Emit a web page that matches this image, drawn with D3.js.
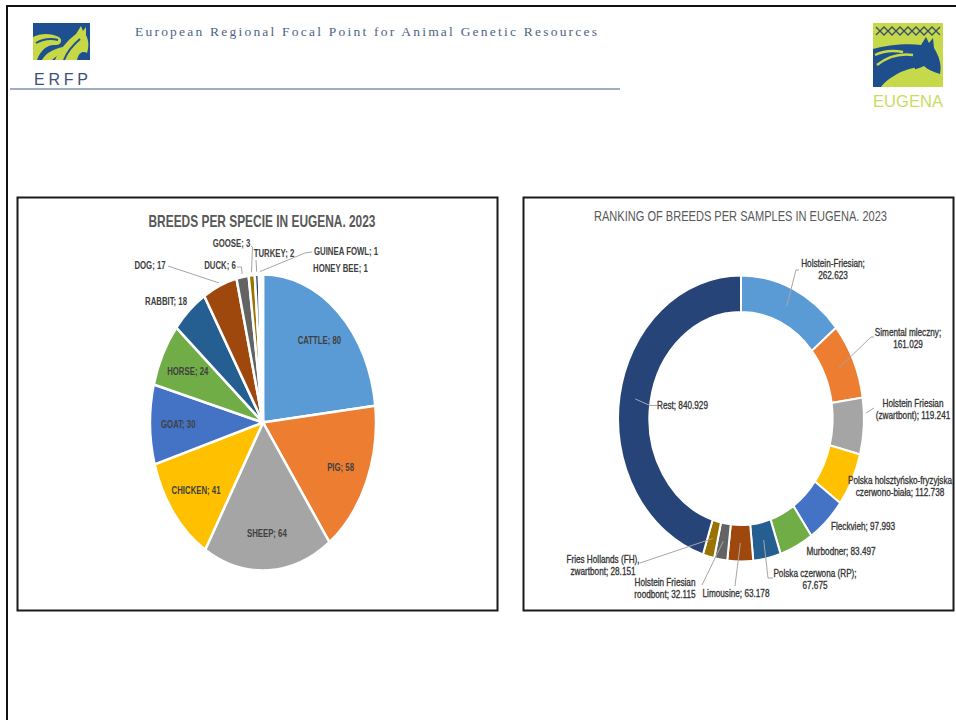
<!DOCTYPE html>
<html><head><meta charset="utf-8">
<script src="https://cdn.jsdelivr.net/npm/d3@7"></script>
<style>html,body{margin:0;padding:0;background:#fff;overflow:hidden}svg{display:block}</style>
</head><body>
<svg id="c" width="956" height="720"></svg>
<script>
// ---------------- DATA ----------------
const speciesNames = ["CATTLE","PIG","SHEEP","CHICKEN","GOAT","HORSE","RABBIT","DOG","DUCK","GOOSE","TURKEY","GUINEA FOWL","HONEY BEE"];
const speciesBreeds = [80,58,64,41,30,24,18,17,6,3,2,1,1];
const speciesColors = ["#5B9BD5","#ED7D31","#A5A5A5","#FFC000","#4472C4","#70AD47","#255E91","#9E480E","#636363","#997300","#264478","#43682B","#7CAFDD"];

const breedNames = ["Holstein-Friesian","Simental mleczny","Holstein Friesian (zwartbont)","Polska holsztyńsko-fryzyjska czerwono-biała","Fleckvieh","Murbodner","Polska czerwona (RP)","Limousine","Holstein Friesian roodbont","Fries Hollands (FH), zwartbont","Rest"];
const breedSamples = [262623,161029,119241,112738,97993,83497,67675,63178,32115,28151,840929];
const breedColors = ["#5B9BD5","#ED7D31","#A5A5A5","#FFC000","#4472C4","#70AD47","#255E91","#9E480E","#636363","#997300","#264478"];

const pieTitle = "BREEDS PER SPECIE IN EUGENA. 2023";
const donutTitle = "RANKING OF BREEDS PER SAMPLES IN EUGENA. 2023";
const headerText = "European Regional Focal Point for Animal Genetic Resources";
const erfpText = "ERFP";
const eugenaText = "EUGENA";

// ---------------- LAYOUT ----------------
const FONT = "'Liberation Sans', Arial, sans-serif";
const svg = d3.select("#c");
const fmt = d3.formatLocale({decimal:",", thousands:".", grouping:[3], currency:["","€"]}).format(",d");

function txt(parent, x, y, s, o) {
  const t = parent.append("text")
    .attr("transform", `translate(${x},${y}) scale(${o.sx || 1},1)`)
    .attr("dy", "0.35em")
    .attr("text-anchor", o.anchor || "middle")
    .attr("font-family", o.family || FONT)
    .attr("font-size", o.size)
    .attr("font-weight", o.weight || "normal")
    .attr("fill", o.fill || "#404040")
    .text(s);
  if (o.stroke) t.attr("stroke", o.fill).attr("stroke-width", o.stroke);
  return t;
}

// page frame
svg.append("line").attr("x1",6).attr("x2",956).attr("y1",6).attr("y2",6).attr("stroke","#111").attr("stroke-width",2);
svg.append("line").attr("x1",7).attr("x2",7).attr("y1",5).attr("y2",720).attr("stroke","#111").attr("stroke-width",2);

// header
svg.append("text").attr("x",135).attr("y",36).attr("font-family","'Liberation Serif', 'DejaVu Serif', serif")
  .attr("font-size",13.5).attr("fill","#4e6486").attr("textLength",462).attr("lengthAdjust","spacing").text(headerText);
svg.append("line").attr("x1",10).attr("x2",620).attr("y1",89).attr("y2",89).attr("stroke","#7f93ab").attr("stroke-width",1.5);

// ERFP logo
const lg1 = svg.append("g").attr("transform","translate(33,23)");
lg1.append("rect").attr("width",57).attr("height",37).attr("fill","#1d4f91");
lg1.append("path").attr("fill","#c6d846").attr("d","M22 37 C26 27 34 18 43 11 L48 3 L50 8 L53 4 L53 12 C56 18 56 24 54 30 C50 28 46 29 44 37 Z");
lg1.append("path").attr("fill","#c6d846").attr("d","M0 14 C8 10 18 10 26 14 C30 17 28 22 23 22 C15 21 8 26 4 37 L0 37 Z");
lg1.append("path").attr("fill","#c6d846").attr("d","M9 37 C13 30 20 26 30 24 C33 23 35 25 34 28 C28 30 23 33 19 37 Z");
lg1.append("path").attr("fill","none").attr("stroke","#1d4f91").attr("stroke-width",2).attr("d","M31 37 C34 29 40 22 47 16 M3 20 C10 16 18 15 25 17");
svg.append("text").attr("x",34).attr("y",85).attr("font-family",FONT).attr("font-size",16).attr("fill","#3a5275")
  .attr("textLength",54).attr("lengthAdjust","spacing").text(erfpText);

// EUGENA logo
const lg2 = svg.append("g").attr("transform","translate(873,23)");
lg2.append("rect").attr("width",70).attr("height",64).attr("fill","#c5d94b");
lg2.append("path").attr("fill","none").attr("stroke","#3b4f68").attr("stroke-width",1.3)
  .attr("d","M3 4 L11 12 L19 4 L27 12 L35 4 L43 12 L51 4 L59 12 L67 4");
lg2.append("path").attr("fill","none").attr("stroke","#3b4f68").attr("stroke-width",1.3)
  .attr("d","M3 12 L11 4 L19 12 L27 4 L35 12 L43 4 L51 12 L59 4 L67 12");
lg2.append("path").attr("fill","#1e4e8c").attr("d","M0 26 C14 22 34 20 48 22 L53 14 L56 20 L60 15 L61 25 C66 33 69 42 67 51 C61 49 55 47 51 43 C44 47 35 47 28 49 C20 53 12 58 8 64 L0 64 Z");
lg2.append("path").attr("fill","none").attr("stroke","#c5d94b").attr("stroke-width",2.5).attr("d","M4 42 C14 34 26 30 40 32 M14 64 C20 54 30 48 42 46 M2 32 C10 28 20 27 30 29");
svg.append("text").attr("x",873).attr("y",107).attr("font-family",FONT).attr("font-size",17).attr("fill","#c8dc62")
  .attr("textLength",70).attr("lengthAdjust","spacingAndGlyphs").text(eugenaText);

// panel boxes
svg.append("rect").attr("x",17.5).attr("y",197.5).attr("width",480).attr("height",413).attr("fill","none").attr("stroke","#1a1a1a").attr("stroke-width",2);
svg.append("rect").attr("x",523.5).attr("y",197.5).attr("width",430).attr("height",413).attr("fill","none").attr("stroke","#1a1a1a").attr("stroke-width",2);

// ---------------- PIE ----------------
const PC = {x:263, y:422.5, rx:113, ry:148};
const R = 100;
const pieArcs = d3.pie().sort(null).value(d => d)(speciesBreeds);
const arcFull = d3.arc().innerRadius(0).outerRadius(R);
const pieG = svg.append("g").attr("transform", `translate(${PC.x},${PC.y}) scale(${PC.rx/R},${PC.ry/R})`);
pieG.selectAll("path").data(pieArcs).join("path")
  .attr("d", arcFull).attr("fill", (d,i) => speciesColors[i])
  .attr("stroke","#fff").attr("stroke-width",2.5).attr("vector-effect","non-scaling-stroke");

function ept(C, a, f) { return [C.x + Math.sin(a)*C.rx*f, C.y - Math.cos(a)*C.ry*f]; }
const mid = d => (d.startAngle + d.endAngle)/2;

txt(svg, 262, 221, pieTitle, {size:16, weight:"bold", fill:"#595959", sx:0.745});

const pieLabelOpts = {size:11, weight:"bold", fill:"#404040", sx:0.71};
const pieOuterLayout = {
  "RABBIT": {x:166, y:301},
  "DOG": {x:150, y:265, leader:[[168,266]]},
  "DUCK": {x:220, y:265, leader:[[237,267],[241.5,267]]},
  "GOOSE": {x:231.5, y:243, leader:[[251,246],[252.5,247]]},
  "TURKEY": {x:274, y:253.5, leader:[[256,260]]},
  "GUINEA FOWL": {x:314, y:251.5, anchor:"start", leader:[[312,252],[305,253]]},
  "HONEY BEE": {x:313, y:268.5, anchor:"start"}
};
pieArcs.forEach((d,i) => {
  const name = speciesNames[i];
  const lab = name + "; " + speciesBreeds[i];
  const L = pieOuterLayout[name];
  if (!L) {
    const [x,y] = ept(PC, mid(d), 0.75);
    txt(svg, x, y, lab, pieLabelOpts);
  } else {
    if (L.leader) {
      const pts = L.leader.concat([ept(PC, mid(d), 1.02)]);
      svg.append("path").attr("d", d3.line()(pts)).attr("fill","none").attr("stroke","#a6a6a6").attr("stroke-width",1);
    }
    txt(svg, L.x, L.y, lab, Object.assign({}, pieLabelOpts, {anchor: L.anchor || "middle"}));
  }
});

// ---------------- DONUT ----------------
const DC = {x:741, y:418.5, rx:123, ry:143};
const donutArcs = d3.pie().sort(null).value(d => d)(breedSamples);
const arcRing = d3.arc().innerRadius(R*0.745).outerRadius(R);
const donutG = svg.append("g").attr("transform", `translate(${DC.x},${DC.y}) scale(${DC.rx/R},${DC.ry/R})`);
donutG.selectAll("path").data(donutArcs).join("path")
  .attr("d", arcRing).attr("fill", (d,i) => breedColors[i])
  .attr("stroke","#fff").attr("stroke-width",2).attr("vector-effect","non-scaling-stroke");

txt(svg, 740.5, 216.5, donutTitle, {size:14, fill:"#595959", sx:0.79});

const donutLabelOpts = {size:10, fill:"#333333", sx:0.82, stroke:0.3};
const donutLayout = [
  {x:833, y:263, wrap:1, leader:[[799,270],[796,270]], f:0.87},
  {x:908, y:332, wrap:2, leader:[[874,337],[871,337]], f:0.87},
  {x:913, y:403, wrap:2, leader:[[874,408]], fixedEnd:[866,413]},
  {x:900, y:480, wrap:2},
  {x:863, y:526, wrap:0},
  {x:841, y:551, wrap:0},
  {x:815, y:573, wrap:3, leader:[[773,578],[768,578]], f:0.87},
  {x:736, y:593, wrap:0, leader:[[735,586]], f:0.87},
  {x:665, y:582, wrap:2, leader:[[702,585]], f:0.87},
  {x:603, y:559, wrap:3, leader:[[640,563]], f:0.87},
  {x:657, y:405.5, wrap:0, anchor:"start", leader:[[657,405.5],[650,405.5]], f:0.87}
];
donutArcs.forEach((d,i) => {
  const L = donutLayout[i];
  const words = (breedNames[i] + "; " + fmt(breedSamples[i])).split(" ");
  if (L.leader) {
    const end = L.fixedEnd || ept(DC, mid(d), L.f);
    svg.append("path").attr("d", d3.line()(L.leader.concat([end]))).attr("fill","none").attr("stroke","#a6a6a6").attr("stroke-width",1);
  }
  const o = Object.assign({}, donutLabelOpts, {anchor: L.anchor || "middle"});
  if (L.wrap > 0) {
    txt(svg, L.x, L.y, words.slice(0, L.wrap).join(" "), o);
    txt(svg, L.x, L.y + 12.5, words.slice(L.wrap).join(" "), o);
  } else {
    txt(svg, L.x, L.y, words.join(" "), o);
  }
});
</script>
</body></html>
